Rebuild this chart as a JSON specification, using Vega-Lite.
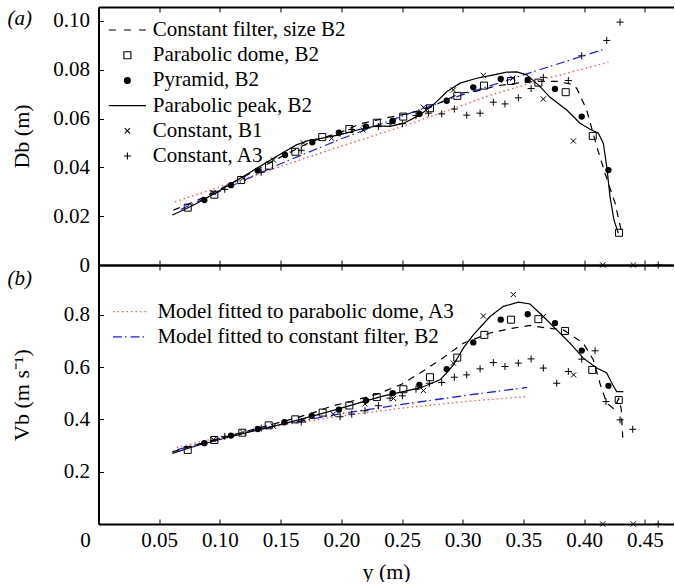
{
  "$schema": "https://vega.github.io/schema/vega-lite/v6.json",
  "background": "white",
  "padding": {"left": 7.5, "top": 6, "right": 0, "bottom": 0},
  "config": {
    "font": "Liberation Serif",
    "view": {"stroke": null},
    "axis": {"labelFont": "Liberation Serif", "labelFontSize": 21, "titleFont": "Liberation Serif", "titleFontSize": 22, "titleFontWeight": "normal", "labelColor": "black", "titleColor": "black", "domainColor": "black", "domainWidth": 2, "tickColor": "black", "tickWidth": 1, "tickSize": -5, "grid": false, "labelFlush": false, "labelOverlap": false, "labelBound": false},
    "legend": {"labelFont": "Liberation Serif", "labelFontSize": 21, "labelColor": "black", "padding": 0, "labelLimit": 500}
  },
  "datasets": {
    "la": [
      {"s": "Constant filter, size B2", "x": 0.0617, "y": 0.0225}, {"s": "Constant filter, size B2", "x": 0.08, "y": 0.0262}, {"s": "Constant filter, size B2", "x": 0.1, "y": 0.031}, {"s": "Constant filter, size B2", "x": 0.125, "y": 0.0375}, {"s": "Constant filter, size B2", "x": 0.15, "y": 0.0442}, {"s": "Constant filter, size B2", "x": 0.175, "y": 0.0505}, {"s": "Constant filter, size B2", "x": 0.2, "y": 0.0545}, {"s": "Constant filter, size B2", "x": 0.2154, "y": 0.0578}, {"s": "Constant filter, size B2", "x": 0.2374, "y": 0.0603}, {"s": "Constant filter, size B2", "x": 0.255, "y": 0.062}, {"s": "Constant filter, size B2", "x": 0.273, "y": 0.0645}, {"s": "Constant filter, size B2", "x": 0.29, "y": 0.0685}, {"s": "Constant filter, size B2", "x": 0.2978, "y": 0.0704}, {"s": "Constant filter, size B2", "x": 0.3115, "y": 0.0712}, {"s": "Constant filter, size B2", "x": 0.328, "y": 0.0734}, {"s": "Constant filter, size B2", "x": 0.3445, "y": 0.0745}, {"s": "Constant filter, size B2", "x": 0.3582, "y": 0.0752}, {"s": "Constant filter, size B2", "x": 0.3774, "y": 0.0752}, {"s": "Constant filter, size B2", "x": 0.3884, "y": 0.0742}, {"s": "Constant filter, size B2", "x": 0.3939, "y": 0.0724}, {"s": "Constant filter, size B2", "x": 0.4021, "y": 0.0635}, {"s": "Constant filter, size B2", "x": 0.4104, "y": 0.0485}, {"s": "Constant filter, size B2", "x": 0.4172, "y": 0.0376}, {"s": "Constant filter, size B2", "x": 0.4255, "y": 0.0253}, {"s": "Constant filter, size B2", "x": 0.431, "y": 0.013},
      {"s": "Parabolic peak, B2", "x": 0.0608, "y": 0.0205}, {"s": "Parabolic peak, B2", "x": 0.07, "y": 0.0225}, {"s": "Parabolic peak, B2", "x": 0.08, "y": 0.025}, {"s": "Parabolic peak, B2", "x": 0.1, "y": 0.0305}, {"s": "Parabolic peak, B2", "x": 0.125, "y": 0.038}, {"s": "Parabolic peak, B2", "x": 0.15, "y": 0.0455}, {"s": "Parabolic peak, B2", "x": 0.163, "y": 0.0492}, {"s": "Parabolic peak, B2", "x": 0.1742, "y": 0.0512}, {"s": "Parabolic peak, B2", "x": 0.1825, "y": 0.0518}, {"s": "Parabolic peak, B2", "x": 0.2, "y": 0.0535}, {"s": "Parabolic peak, B2", "x": 0.215, "y": 0.0555}, {"s": "Parabolic peak, B2", "x": 0.229, "y": 0.057}, {"s": "Parabolic peak, B2", "x": 0.24, "y": 0.0568}, {"s": "Parabolic peak, B2", "x": 0.251, "y": 0.058}, {"s": "Parabolic peak, B2", "x": 0.2648, "y": 0.0615}, {"s": "Parabolic peak, B2", "x": 0.2772, "y": 0.0663}, {"s": "Parabolic peak, B2", "x": 0.2868, "y": 0.071}, {"s": "Parabolic peak, B2", "x": 0.2978, "y": 0.0745}, {"s": "Parabolic peak, B2", "x": 0.3115, "y": 0.0765}, {"s": "Parabolic peak, B2", "x": 0.3225, "y": 0.0776}, {"s": "Parabolic peak, B2", "x": 0.3362, "y": 0.079}, {"s": "Parabolic peak, B2", "x": 0.3445, "y": 0.0791}, {"s": "Parabolic peak, B2", "x": 0.3527, "y": 0.0779}, {"s": "Parabolic peak, B2", "x": 0.3637, "y": 0.0731}, {"s": "Parabolic peak, B2", "x": 0.3719, "y": 0.0687}, {"s": "Parabolic peak, B2", "x": 0.3857, "y": 0.0635}, {"s": "Parabolic peak, B2", "x": 0.3966, "y": 0.0581}, {"s": "Parabolic peak, B2", "x": 0.4049, "y": 0.0556}, {"s": "Parabolic peak, B2", "x": 0.4117, "y": 0.054}, {"s": "Parabolic peak, B2", "x": 0.4158, "y": 0.0499}, {"s": "Parabolic peak, B2", "x": 0.4186, "y": 0.0403}, {"s": "Parabolic peak, B2", "x": 0.4213, "y": 0.028}, {"s": "Parabolic peak, B2", "x": 0.4246, "y": 0.0184}, {"s": "Parabolic peak, B2", "x": 0.4282, "y": 0.013}
    ],
    "pa": [
      {"s": "Parabolic dome, B2", "x": 0.0735, "y": 0.0235}, {"s": "Parabolic dome, B2", "x": 0.0954, "y": 0.0288}, {"s": "Parabolic dome, B2", "x": 0.1175, "y": 0.0348}, {"s": "Parabolic dome, B2", "x": 0.1404, "y": 0.0407}, {"s": "Parabolic dome, B2", "x": 0.1621, "y": 0.0464}, {"s": "Parabolic dome, B2", "x": 0.1843, "y": 0.0524}, {"s": "Parabolic dome, B2", "x": 0.2066, "y": 0.0557}, {"s": "Parabolic dome, B2", "x": 0.2292, "y": 0.0583}, {"s": "Parabolic dome, B2", "x": 0.251, "y": 0.0608}, {"s": "Parabolic dome, B2", "x": 0.273, "y": 0.0642}, {"s": "Parabolic dome, B2", "x": 0.2955, "y": 0.0693}, {"s": "Parabolic dome, B2", "x": 0.3175, "y": 0.0735}, {"s": "Parabolic dome, B2", "x": 0.3398, "y": 0.0754}, {"s": "Parabolic dome, B2", "x": 0.3623, "y": 0.0747}, {"s": "Parabolic dome, B2", "x": 0.3848, "y": 0.0708}, {"s": "Parabolic dome, B2", "x": 0.4071, "y": 0.0529}, {"s": "Parabolic dome, B2", "x": 0.4287, "y": 0.0132},
      {"s": "Pyramid, B2", "x": 0.0872, "y": 0.0266}, {"s": "Pyramid, B2", "x": 0.1091, "y": 0.0327}, {"s": "Pyramid, B2", "x": 0.1311, "y": 0.0387}, {"s": "Pyramid, B2", "x": 0.1536, "y": 0.0451}, {"s": "Pyramid, B2", "x": 0.1761, "y": 0.0503}, {"s": "Pyramid, B2", "x": 0.198, "y": 0.0542}, {"s": "Pyramid, B2", "x": 0.2203, "y": 0.0567}, {"s": "Pyramid, B2", "x": 0.2423, "y": 0.059}, {"s": "Pyramid, B2", "x": 0.2643, "y": 0.0619}, {"s": "Pyramid, B2", "x": 0.2868, "y": 0.0673}, {"s": "Pyramid, B2", "x": 0.3087, "y": 0.0728}, {"s": "Pyramid, B2", "x": 0.3313, "y": 0.0762}, {"s": "Pyramid, B2", "x": 0.3535, "y": 0.0758}, {"s": "Pyramid, B2", "x": 0.376, "y": 0.0721}, {"s": "Pyramid, B2", "x": 0.398, "y": 0.0608}, {"s": "Pyramid, B2", "x": 0.42, "y": 0.0389},
      {"s": "Constant, B1", "x": 0.0946, "y": 0.0296}, {"s": "Constant, B1", "x": 0.119, "y": 0.0355}, {"s": "Constant, B1", "x": 0.144, "y": 0.043}, {"s": "Constant, B1", "x": 0.1687, "y": 0.05}, {"s": "Constant, B1", "x": 0.192, "y": 0.0519}, {"s": "Constant, B1", "x": 0.218, "y": 0.0553}, {"s": "Constant, B1", "x": 0.243, "y": 0.0585}, {"s": "Constant, B1", "x": 0.2676, "y": 0.0646}, {"s": "Constant, B1", "x": 0.2923, "y": 0.0717}, {"s": "Constant, B1", "x": 0.317, "y": 0.0777}, {"s": "Constant, B1", "x": 0.3412, "y": 0.0765}, {"s": "Constant, B1", "x": 0.3664, "y": 0.068}, {"s": "Constant, B1", "x": 0.3911, "y": 0.0508}, {"s": "Constant, B1", "x": 0.4153, "y": 0}, {"s": "Constant, B1", "x": 0.4405, "y": 0},
      {"s": "Constant, A3", "x": 0.104, "y": 0.031}, {"s": "Constant, A3", "x": 0.134, "y": 0.038}, {"s": "Constant, A3", "x": 0.167, "y": 0.047}, {"s": "Constant, A3", "x": 0.199, "y": 0.054}, {"s": "Constant, A3", "x": 0.2086, "y": 0.0555}, {"s": "Constant, A3", "x": 0.2195, "y": 0.057}, {"s": "Constant, A3", "x": 0.2305, "y": 0.0567}, {"s": "Constant, A3", "x": 0.2401, "y": 0.058}, {"s": "Constant, A3", "x": 0.2503, "y": 0.0579}, {"s": "Constant, A3", "x": 0.2615, "y": 0.0612}, {"s": "Constant, A3", "x": 0.2717, "y": 0.0622}, {"s": "Constant, A3", "x": 0.2827, "y": 0.0619}, {"s": "Constant, A3", "x": 0.2931, "y": 0.0639}, {"s": "Constant, A3", "x": 0.3033, "y": 0.0614}, {"s": "Constant, A3", "x": 0.3143, "y": 0.0622}, {"s": "Constant, A3", "x": 0.3252, "y": 0.0667}, {"s": "Constant, A3", "x": 0.3348, "y": 0.066}, {"s": "Constant, A3", "x": 0.3458, "y": 0.0685}, {"s": "Constant, A3", "x": 0.3563, "y": 0.0723}, {"s": "Constant, A3", "x": 0.3664, "y": 0.0769}, {"s": "Constant, A3", "x": 0.387, "y": 0.0756}, {"s": "Constant, A3", "x": 0.398, "y": 0.0857}, {"s": "Constant, A3", "x": 0.4186, "y": 0.092}, {"s": "Constant, A3", "x": 0.4296, "y": 0.0995}, {"s": "Constant, A3", "x": 0.461, "y": 0}
    ],
    "ma": [
      {"m": "Model fitted to parabolic dome, A3", "x": 0.063, "y": 0.0259}, {"m": "Model fitted to parabolic dome, A3", "x": 0.1, "y": 0.032}, {"m": "Model fitted to parabolic dome, A3", "x": 0.15, "y": 0.0404}, {"m": "Model fitted to parabolic dome, A3", "x": 0.2, "y": 0.0487}, {"m": "Model fitted to parabolic dome, A3", "x": 0.25, "y": 0.0567}, {"m": "Model fitted to parabolic dome, A3", "x": 0.3, "y": 0.0655}, {"m": "Model fitted to parabolic dome, A3", "x": 0.3225, "y": 0.0695}, {"m": "Model fitted to parabolic dome, A3", "x": 0.36, "y": 0.0752}, {"m": "Model fitted to parabolic dome, A3", "x": 0.42, "y": 0.0831},
      {"m": "Model fitted to constant filter, B2", "x": 0.068, "y": 0.0228}, {"m": "Model fitted to constant filter, B2", "x": 0.1, "y": 0.0302}, {"m": "Model fitted to constant filter, B2", "x": 0.15, "y": 0.0415}, {"m": "Model fitted to constant filter, B2", "x": 0.2, "y": 0.0517}, {"m": "Model fitted to constant filter, B2", "x": 0.25, "y": 0.061}, {"m": "Model fitted to constant filter, B2", "x": 0.3, "y": 0.0698}, {"m": "Model fitted to constant filter, B2", "x": 0.3225, "y": 0.0734}, {"m": "Model fitted to constant filter, B2", "x": 0.36, "y": 0.0795}, {"m": "Model fitted to constant filter, B2", "x": 0.4172, "y": 0.0885}
    ],
    "lb": [
      {"s": "Constant filter, size B2", "x": 0.0608, "y": 0.276}, {"s": "Constant filter, size B2", "x": 0.08, "y": 0.302}, {"s": "Constant filter, size B2", "x": 0.1, "y": 0.327}, {"s": "Constant filter, size B2", "x": 0.12, "y": 0.352}, {"s": "Constant filter, size B2", "x": 0.14, "y": 0.377}, {"s": "Constant filter, size B2", "x": 0.16, "y": 0.402}, {"s": "Constant filter, size B2", "x": 0.18, "y": 0.43}, {"s": "Constant filter, size B2", "x": 0.191, "y": 0.449}, {"s": "Constant filter, size B2", "x": 0.2075, "y": 0.468}, {"s": "Constant filter, size B2", "x": 0.23, "y": 0.497}, {"s": "Constant filter, size B2", "x": 0.25, "y": 0.535}, {"s": "Constant filter, size B2", "x": 0.2648, "y": 0.577}, {"s": "Constant filter, size B2", "x": 0.2813, "y": 0.627}, {"s": "Constant filter, size B2", "x": 0.3005, "y": 0.691}, {"s": "Constant filter, size B2", "x": 0.3225, "y": 0.73}, {"s": "Constant filter, size B2", "x": 0.3417, "y": 0.749}, {"s": "Constant filter, size B2", "x": 0.3554, "y": 0.759}, {"s": "Constant filter, size B2", "x": 0.3692, "y": 0.749}, {"s": "Constant filter, size B2", "x": 0.3829, "y": 0.742}, {"s": "Constant filter, size B2", "x": 0.3993, "y": 0.691}, {"s": "Constant filter, size B2", "x": 0.4076, "y": 0.627}, {"s": "Constant filter, size B2", "x": 0.413, "y": 0.538}, {"s": "Constant filter, size B2", "x": 0.4186, "y": 0.462}, {"s": "Constant filter, size B2", "x": 0.4245, "y": 0.44}, {"s": "Constant filter, size B2", "x": 0.4285, "y": 0.48}, {"s": "Constant filter, size B2", "x": 0.4305, "y": 0.44}, {"s": "Constant filter, size B2", "x": 0.4318, "y": 0.33},
      {"s": "Parabolic peak, B2", "x": 0.0608, "y": 0.27}, {"s": "Parabolic peak, B2", "x": 0.08, "y": 0.298}, {"s": "Parabolic peak, B2", "x": 0.1, "y": 0.323}, {"s": "Parabolic peak, B2", "x": 0.12, "y": 0.347}, {"s": "Parabolic peak, B2", "x": 0.14, "y": 0.369}, {"s": "Parabolic peak, B2", "x": 0.16, "y": 0.392}, {"s": "Parabolic peak, B2", "x": 0.18, "y": 0.417}, {"s": "Parabolic peak, B2", "x": 0.2, "y": 0.443}, {"s": "Parabolic peak, B2", "x": 0.2182, "y": 0.468}, {"s": "Parabolic peak, B2", "x": 0.235, "y": 0.49}, {"s": "Parabolic peak, B2", "x": 0.25, "y": 0.505}, {"s": "Parabolic peak, B2", "x": 0.265, "y": 0.52}, {"s": "Parabolic peak, B2", "x": 0.273, "y": 0.535}, {"s": "Parabolic peak, B2", "x": 0.2813, "y": 0.551}, {"s": "Parabolic peak, B2", "x": 0.2868, "y": 0.578}, {"s": "Parabolic peak, B2", "x": 0.2923, "y": 0.608}, {"s": "Parabolic peak, B2", "x": 0.3005, "y": 0.672}, {"s": "Parabolic peak, B2", "x": 0.3087, "y": 0.723}, {"s": "Parabolic peak, B2", "x": 0.3225, "y": 0.793}, {"s": "Parabolic peak, B2", "x": 0.3335, "y": 0.832}, {"s": "Parabolic peak, B2", "x": 0.3459, "y": 0.848}, {"s": "Parabolic peak, B2", "x": 0.3554, "y": 0.841}, {"s": "Parabolic peak, B2", "x": 0.3664, "y": 0.793}, {"s": "Parabolic peak, B2", "x": 0.3774, "y": 0.742}, {"s": "Parabolic peak, B2", "x": 0.3884, "y": 0.691}, {"s": "Parabolic peak, B2", "x": 0.3993, "y": 0.634}, {"s": "Parabolic peak, B2", "x": 0.4104, "y": 0.596}, {"s": "Parabolic peak, B2", "x": 0.4186, "y": 0.577}, {"s": "Parabolic peak, B2", "x": 0.4235, "y": 0.532}, {"s": "Parabolic peak, B2", "x": 0.4268, "y": 0.506}, {"s": "Parabolic peak, B2", "x": 0.4323, "y": 0.506}
    ],
    "pb": [
      {"s": "Parabolic dome, B2", "x": 0.0735, "y": 0.283}, {"s": "Parabolic dome, B2", "x": 0.0954, "y": 0.321}, {"s": "Parabolic dome, B2", "x": 0.1185, "y": 0.349}, {"s": "Parabolic dome, B2", "x": 0.1402, "y": 0.377}, {"s": "Parabolic dome, B2", "x": 0.1621, "y": 0.4}, {"s": "Parabolic dome, B2", "x": 0.1846, "y": 0.426}, {"s": "Parabolic dome, B2", "x": 0.2066, "y": 0.453}, {"s": "Parabolic dome, B2", "x": 0.2292, "y": 0.485}, {"s": "Parabolic dome, B2", "x": 0.2511, "y": 0.515}, {"s": "Parabolic dome, B2", "x": 0.273, "y": 0.561}, {"s": "Parabolic dome, B2", "x": 0.2955, "y": 0.636}, {"s": "Parabolic dome, B2", "x": 0.3178, "y": 0.723}, {"s": "Parabolic dome, B2", "x": 0.3397, "y": 0.781}, {"s": "Parabolic dome, B2", "x": 0.3623, "y": 0.783}, {"s": "Parabolic dome, B2", "x": 0.3843, "y": 0.738}, {"s": "Parabolic dome, B2", "x": 0.4067, "y": 0.589}, {"s": "Parabolic dome, B2", "x": 0.4285, "y": 0.474},
      {"s": "Pyramid, B2", "x": 0.0872, "y": 0.309}, {"s": "Pyramid, B2", "x": 0.1091, "y": 0.338}, {"s": "Pyramid, B2", "x": 0.1311, "y": 0.363}, {"s": "Pyramid, B2", "x": 0.1531, "y": 0.389}, {"s": "Pyramid, B2", "x": 0.1756, "y": 0.413}, {"s": "Pyramid, B2", "x": 0.198, "y": 0.437}, {"s": "Pyramid, B2", "x": 0.2203, "y": 0.472}, {"s": "Pyramid, B2", "x": 0.2423, "y": 0.5}, {"s": "Pyramid, B2", "x": 0.2643, "y": 0.532}, {"s": "Pyramid, B2", "x": 0.2868, "y": 0.592}, {"s": "Pyramid, B2", "x": 0.3087, "y": 0.694}, {"s": "Pyramid, B2", "x": 0.3313, "y": 0.781}, {"s": "Pyramid, B2", "x": 0.3535, "y": 0.802}, {"s": "Pyramid, B2", "x": 0.376, "y": 0.768}, {"s": "Pyramid, B2", "x": 0.398, "y": 0.663}, {"s": "Pyramid, B2", "x": 0.42, "y": 0.528},
      {"s": "Constant, B1", "x": 0.0946, "y": 0.322}, {"s": "Constant, B1", "x": 0.119, "y": 0.35}, {"s": "Constant, B1", "x": 0.144, "y": 0.374}, {"s": "Constant, B1", "x": 0.1687, "y": 0.397}, {"s": "Constant, B1", "x": 0.1934, "y": 0.42}, {"s": "Constant, B1", "x": 0.2195, "y": 0.459}, {"s": "Constant, B1", "x": 0.243, "y": 0.48}, {"s": "Constant, B1", "x": 0.2676, "y": 0.51}, {"s": "Constant, B1", "x": 0.2923, "y": 0.615}, {"s": "Constant, B1", "x": 0.317, "y": 0.795}, {"s": "Constant, B1", "x": 0.3417, "y": 0.877}, {"s": "Constant, B1", "x": 0.3664, "y": 0.793}, {"s": "Constant, B1", "x": 0.3913, "y": 0.57}, {"s": "Constant, B1", "x": 0.4153, "y": 0}, {"s": "Constant, B1", "x": 0.4405, "y": 0},
      {"s": "Constant, A3", "x": 0.104, "y": 0.335}, {"s": "Constant, A3", "x": 0.134, "y": 0.366}, {"s": "Constant, A3", "x": 0.167, "y": 0.39}, {"s": "Constant, A3", "x": 0.199, "y": 0.41}, {"s": "Constant, A3", "x": 0.2086, "y": 0.42}, {"s": "Constant, A3", "x": 0.2195, "y": 0.433}, {"s": "Constant, A3", "x": 0.2305, "y": 0.452}, {"s": "Constant, A3", "x": 0.2401, "y": 0.481}, {"s": "Constant, A3", "x": 0.2503, "y": 0.49}, {"s": "Constant, A3", "x": 0.2615, "y": 0.515}, {"s": "Constant, A3", "x": 0.2725, "y": 0.538}, {"s": "Constant, A3", "x": 0.2827, "y": 0.541}, {"s": "Constant, A3", "x": 0.2931, "y": 0.561}, {"s": "Constant, A3", "x": 0.3033, "y": 0.57}, {"s": "Constant, A3", "x": 0.3143, "y": 0.593}, {"s": "Constant, A3", "x": 0.3252, "y": 0.617}, {"s": "Constant, A3", "x": 0.3348, "y": 0.602}, {"s": "Constant, A3", "x": 0.3458, "y": 0.615}, {"s": "Constant, A3", "x": 0.3563, "y": 0.631}, {"s": "Constant, A3", "x": 0.3664, "y": 0.596}, {"s": "Constant, A3", "x": 0.3774, "y": 0.538}, {"s": "Constant, A3", "x": 0.387, "y": 0.583}, {"s": "Constant, A3", "x": 0.398, "y": 0.63}, {"s": "Constant, A3", "x": 0.409, "y": 0.662}, {"s": "Constant, A3", "x": 0.418, "y": 0.468}, {"s": "Constant, A3", "x": 0.4296, "y": 0.398}, {"s": "Constant, A3", "x": 0.44, "y": 0.362}, {"s": "Constant, A3", "x": 0.461, "y": 0}
    ],
    "mb": [
      {"m": "Model fitted to parabolic dome, A3", "x": 0.0644, "y": 0.293}, {"m": "Model fitted to parabolic dome, A3", "x": 0.1, "y": 0.332}, {"m": "Model fitted to parabolic dome, A3", "x": 0.15, "y": 0.377}, {"m": "Model fitted to parabolic dome, A3", "x": 0.2, "y": 0.413}, {"m": "Model fitted to parabolic dome, A3", "x": 0.25, "y": 0.443}, {"m": "Model fitted to parabolic dome, A3", "x": 0.3, "y": 0.467}, {"m": "Model fitted to parabolic dome, A3", "x": 0.353, "y": 0.488},
      {"m": "Model fitted to constant filter, B2", "x": 0.065, "y": 0.284}, {"m": "Model fitted to constant filter, B2", "x": 0.1, "y": 0.327}, {"m": "Model fitted to constant filter, B2", "x": 0.15, "y": 0.38}, {"m": "Model fitted to constant filter, B2", "x": 0.2, "y": 0.422}, {"m": "Model fitted to constant filter, B2", "x": 0.25, "y": 0.457}, {"m": "Model fitted to constant filter, B2", "x": 0.3, "y": 0.49}, {"m": "Model fitted to constant filter, B2", "x": 0.353, "y": 0.522}
    ]
  },
  "spacing": 0,
  "bounds": "flush",
  "resolve": {
    "scale": {"shape": "independent", "stroke": "independent", "strokeDash": "independent"},
    "legend": {"shape": "independent", "stroke": "independent", "strokeDash": "independent"}
  },
  "vconcat": [
    {
      "width": 575,
      "height": 258,
      "title": {"text": "(a)", "orient": "top", "anchor": "start", "frame": "group", "dx": -91, "offset": -22.5, "font": "Liberation Serif", "fontSize": 21, "fontStyle": "italic", "fontWeight": "normal", "color": "black"},
      "encoding": {
        "x": {"field": "x", "type": "quantitative", "scale": {"domain": [0, 0.4736]}, "axis": null},
        "y": {"field": "y", "type": "quantitative", "scale": {"domain": [0, 0.1057]}, "axis": {"values": [0, 0.02, 0.04, 0.06, 0.08, 0.1], "labelExpr": "datum.value == 0 ? '0' : format(datum.value, '.2f')", "labelPadding": 14, "title": "Db (m)", "titleX": -77.5, "titleY": 129, "titleAngle": -90, "titleAlign": "center", "titleBaseline": "middle"}}
      },
      "resolve": {"axis": {"x": "independent"}},
      "layer": [
        {
          "data": {"name": "ma"},
          "transform": [{"filter": "datum.m == 'Model fitted to parabolic dome, A3'"}],
          "mark": {"type": "line", "stroke": "#ff5555", "strokeDash": [1.5, 3], "strokeWidth": 1.4},
          "encoding": {"x": {"field": "x", "type": "quantitative", "scale": {"domain": [0, 0.4736]}, "axis": {"orient": "top", "values": [0, 0.05, 0.1, 0.15, 0.2, 0.25, 0.3, 0.35, 0.4, 0.45], "labels": false, "title": null}}}
        },
        {
          "data": {"name": "ma"},
          "transform": [{"filter": "datum.m == 'Model fitted to constant filter, B2'"}],
          "mark": {"type": "line", "stroke": "#1a1aff", "strokeDash": [9, 3, 1.5, 4], "strokeWidth": 1.2},
          "encoding": {"x": {"field": "x", "type": "quantitative", "scale": {"domain": [0, 0.4736]}, "axis": {"orient": "bottom", "values": [0, 0.05, 0.1, 0.15, 0.2, 0.25, 0.3, 0.35, 0.4, 0.45], "labels": false, "title": null}}}
        },
        {
          "data": {"name": "la"},
          "transform": [{"filter": "datum.s == 'Constant filter, size B2'"}],
          "mark": {"type": "line", "stroke": "black", "strokeDash": [7, 6], "strokeWidth": 1.2},
          "encoding": {}
        },
        {
          "data": {"name": "la"},
          "transform": [{"filter": "datum.s == 'Parabolic peak, B2'"}],
          "mark": {"type": "line", "stroke": "black", "strokeWidth": 1.2},
          "encoding": {}
        },
        {
          "data": {"name": "pa"},
          "transform": [{"filter": "datum.s == 'Pyramid, B2'"}],
          "mark": {"type": "point", "shape": "circle", "filled": true, "fill": "black", "strokeWidth": 0, "size": 40, "opacity": 1},
          "encoding": {}
        },
        {
          "data": {"name": "pa"},
          "transform": [{"filter": "datum.s != 'Pyramid, B2'"}],
          "mark": {"type": "point", "filled": false, "stroke": "black", "strokeWidth": 1, "size": 49, "opacity": 1},
          "encoding": {
            "shape": {"field": "s", "type": "nominal",
              "scale": {"domain": ["Constant filter, size B2", "Parabolic dome, B2", "Pyramid, B2", "Parabolic peak, B2", "Constant, B1", "Constant, A3"],
                "range": ["M-5.3,0H-3.3M-1,0H1M3.3,0H5.3", "M-1,-1H1V1H-1Z", "M0.85,0A0.85,0.85 0 1,1 -0.85,0A0.85,0.85 0 1,1 0.85,0ZM0.6,0A0.6,0.6 0 1,1 -0.6,0A0.6,0.6 0 1,1 0.6,0ZM0.35,0A0.35,0.35 0 1,1 -0.35,0A0.35,0.35 0 1,1 0.35,0ZM0.12,0A0.12,0.12 0 1,1 -0.12,0A0.12,0.12 0 1,1 0.12,0Z", "M-5.3,0H5.3", "M-0.75,-0.75L0.75,0.75M-0.75,0.75L0.75,-0.75", "M-1,0H1M0,-1V1"]},
              "legend": {"title": null, "orient": "none", "legendX": 18.4, "legendY": 12.5, "symbolSize": 49, "symbolStrokeWidth": 1.1, "symbolStrokeColor": "black", "symbolOpacity": 1, "labelOffset": 14.9, "rowPadding": 3.2}}
          }
        }
      ]
    },
    {
      "width": 575,
      "height": 259,
      "title": {"text": "(b)", "orient": "top", "anchor": "start", "frame": "group", "dx": -91, "offset": -24, "font": "Liberation Serif", "fontSize": 21, "fontStyle": "italic", "fontWeight": "normal", "color": "black"},
      "encoding": {
        "x": {"field": "x", "type": "quantitative", "scale": {"domain": [0, 0.4736]}, "axis": null},
        "y": {"field": "y", "type": "quantitative", "scale": {"domain": [0, 0.99]}, "axis": {"values": [0.2, 0.4, 0.6, 0.8], "format": ".1f", "labelPadding": 14, "title": "Vb (m s⁻¹)", "titleX": -77.5, "titleY": 129.5, "titleAngle": -90, "titleAlign": "center", "titleBaseline": "middle"}}
      },
      "resolve": {"axis": {"x": "independent"}},
      "layer": [
        {
          "data": {"name": "mb"},
          "mark": {"type": "line", "strokeWidth": 1.3},
          "encoding": {
            "x": {"field": "x", "type": "quantitative", "scale": {"domain": [0, 0.4736]}, "axis": {"orient": "top", "values": [0, 0.05, 0.1, 0.15, 0.2, 0.25, 0.3, 0.35, 0.4, 0.45], "labels": false, "title": null}},
            "stroke": {"field": "m", "type": "nominal", "scale": {"domain": ["Model fitted to parabolic dome, A3", "Model fitted to constant filter, B2"], "range": ["#ff5555", "#1a1aff"]},
              "legend": {"title": null, "orient": "none", "legendX": 21.5, "legendY": 36.2, "symbolType": "M-5,0H5", "symbolSize": 49, "symbolStrokeWidth": 1.3, "labelOffset": 16.4, "rowPadding": 3.2}},
            "strokeDash": {"field": "m", "type": "nominal", "scale": {"domain": ["Model fitted to parabolic dome, A3", "Model fitted to constant filter, B2"], "range": [[1.5, 3], [9, 3, 1.5, 4]]}, "legend": {"title": null}}
          }
        },
        {
          "data": {"name": "lb"},
          "transform": [{"filter": "datum.s == 'Constant filter, size B2'"}],
          "mark": {"type": "line", "stroke": "black", "strokeDash": [7, 6], "strokeWidth": 1.2},
          "encoding": {
            "x": {"field": "x", "type": "quantitative", "scale": {"domain": [0, 0.4736]}, "axis": {"orient": "bottom", "values": [0, 0.05, 0.1, 0.15, 0.2, 0.25, 0.3, 0.35, 0.4, 0.45], "labelExpr": "datum.value == 0 ? '0' : format(datum.value, '.2f')", "labelOffset": {"condition": {"test": "datum.value == 0", "value": -13.5}, "value": 0}, "labelPadding": 10, "title": "y (m)", "titleY": 47, "titleBaseline": "middle"}}
          }
        },
        {
          "data": {"name": "lb"},
          "transform": [{"filter": "datum.s == 'Parabolic peak, B2'"}],
          "mark": {"type": "line", "stroke": "black", "strokeWidth": 1.2},
          "encoding": {}
        },
        {
          "data": {"name": "pb"},
          "transform": [{"filter": "datum.s == 'Pyramid, B2'"}],
          "mark": {"type": "point", "shape": "circle", "filled": true, "fill": "black", "strokeWidth": 0, "size": 40, "opacity": 1},
          "encoding": {}
        },
        {
          "data": {"name": "pb"},
          "transform": [{"filter": "datum.s != 'Pyramid, B2'"}],
          "mark": {"type": "point", "filled": false, "stroke": "black", "strokeWidth": 1, "size": 49, "opacity": 1},
          "encoding": {
            "shape": {"field": "s", "type": "nominal",
              "scale": {"domain": ["Parabolic dome, B2", "Constant, B1", "Constant, A3"],
                "range": ["M-1,-1H1V1H-1Z", "M-0.75,-0.75L0.75,0.75M-0.75,0.75L0.75,-0.75", "M-1,0H1M0,-1V1"]},
              "legend": null}
          }
        }
      ]
    }
  ]
}
